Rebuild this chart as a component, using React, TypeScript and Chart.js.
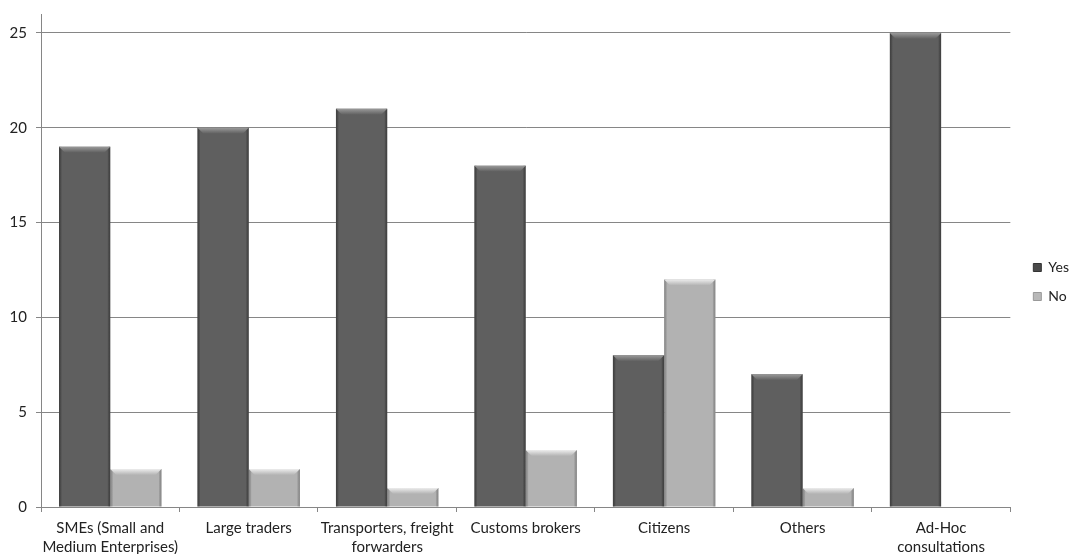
import React, { useEffect, useRef } from "react";
import { Chart, registerables } from "chart.js";

Chart.register(...registerables);

const categories: (string | string[])[] = [
  ["SMEs (Small and", "Medium Enterprises)"],
  "Large traders",
  ["Transporters, freight", "forwarders"],
  "Customs brokers",
  "Citizens",
  "Others",
  ["Ad-Hoc", "consultations"],
];
const yesValues = [19, 20, 21, 18, 8, 7, 25];
const noValues = [2, 2, 1, 3, 12, 1, 0];
const yTicks = [0, 5, 10, 15, 20, 25];

const FONT = "Lato, 'Open Sans', sans-serif";

const bevelPlugin = {
  id: "bevel",
  afterLayout(chart: any) {
    const lg = chart.legend;
    if (lg) {
      lg.left += 8;
      lg.right += 8;
      lg.top -= 2;
      lg.bottom -= 2;
    }
  },
  afterDatasetsDraw(chart: any) {
    const ctx = chart.ctx;
    const styles = [
      { edge: "rgba(40,40,40,0.55)", top: "#9a9a9a", mid: "#5f5f5f" },
      { edge: "rgba(90,90,90,0.45)", top: "#ececec", mid: "#b2b2b2" },
    ];
    chart.data.datasets.forEach((ds: any, di: number) => {
      const meta = chart.getDatasetMeta(di);
      const st = styles[di];
      meta.data.forEach((bar: any) => {
        const { x, y, base, width } = bar.getProps(["x", "y", "base", "width"], true);
        const h = base - y;
        if (h <= 1) return;
        const l = x - width / 2;
        const r = x + width / 2;
        ctx.save();
        const e = 3;
        let g = ctx.createLinearGradient(l, 0, l + e, 0);
        g.addColorStop(0, st.edge);
        g.addColorStop(1, "rgba(0,0,0,0)");
        ctx.fillStyle = g;
        ctx.fillRect(l, y, e, h);
        g = ctx.createLinearGradient(r - e, 0, r, 0);
        g.addColorStop(0, "rgba(0,0,0,0)");
        g.addColorStop(1, st.edge);
        ctx.fillStyle = g;
        ctx.fillRect(r - e, y, e, h);
        const b = Math.min(6, h);
        g = ctx.createLinearGradient(0, y, 0, y + b);
        g.addColorStop(0, st.top);
        g.addColorStop(1, st.mid);
        ctx.fillStyle = g;
        ctx.beginPath();
        ctx.moveTo(l, y);
        ctx.lineTo(r, y);
        ctx.lineTo(r - b, y + b);
        ctx.lineTo(l + b, y + b);
        ctx.closePath();
        ctx.fill();
        ctx.restore();
      });
    });
  },
};

export default function App() {
  const ref = useRef<HTMLCanvasElement | null>(null);
  useEffect(() => {
    if (!ref.current) return;
    const chart = new Chart(ref.current, {
      type: "bar",
      data: {
        labels: categories,
        datasets: [
          {
            label: "Yes",
            data: yesValues,
            backgroundColor: "#5f5f5f",
            borderWidth: 0,
            categoryPercentage: 0.74,
            barPercentage: 1,
          },
          {
            label: "No",
            data: noValues,
            backgroundColor: "#b2b2b2",
            borderWidth: 0,
            categoryPercentage: 0.74,
            barPercentage: 1,
          },
        ],
      },
      options: {
        animation: false,
        responsive: false,
        maintainAspectRatio: false,
        layout: { padding: { top: 14, right: 0, left: 0, bottom: 0 } },
        plugins: {
          tooltip: { enabled: false },
          legend: {
            position: "right",
            align: "center",
            labels: {
              boxWidth: 8,
              boxHeight: 8,
              padding: 15,
              color: "#222",
              font: { family: FONT, size: 14 },
              generateLabels: (c: any) =>
                c.data.datasets.map((d: any, i: number) => ({
                  text: d.label,
                  fillStyle: i === 0 ? "#4a4a4a" : "#b8b8b8",
                  strokeStyle: i === 0 ? "#333" : "#999",
                  lineWidth: 1,
                  hidden: false,
                  datasetIndex: i,
                  fontColor: "#222",
                })),
            },
          },
        },
        scales: {
          x: {
            offset: true,
            grid: {
              offset: true,
              drawOnChartArea: false,
              drawTicks: true,
              tickLength: 5,
              color: "#868686",
            },
            border: { color: "#868686", width: 1 },
            ticks: {
              color: "#222",
              font: { family: FONT, size: 15, lineHeight: 1.27 },
              padding: 7,
              maxRotation: 0,
              autoSkip: false,
            },
            afterFit: (s: any) => {
              s.height = 47;
            },
          },
          y: {
            min: 0,
            max: 26,
            afterBuildTicks: (s: any) => {
              s.ticks = yTicks.map((v) => ({ value: v }));
            },
            grid: {
              color: "#868686",
              tickLength: 5,
              drawTicks: true,
            },
            border: { color: "#868686", width: 1 },
            ticks: {
              color: "#222",
              font: { family: FONT, size: 15 },
              padding: 9,
            },
            afterFit: (s: any) => {
              s.width = 41;
              s.paddingTop = 0;
              s.paddingBottom = 0;
            },
          },
        },
      },
      plugins: [bevelPlugin],
    } as any);
    return () => chart.destroy();
  }, []);
  return (
    <div style={{ position: "fixed", left: 0, top: 0, width: 1071, height: 554, background: "#fff" }}>
      <canvas ref={ref} width={1071} height={554} style={{ display: "block" }} />
    </div>
  );
}
